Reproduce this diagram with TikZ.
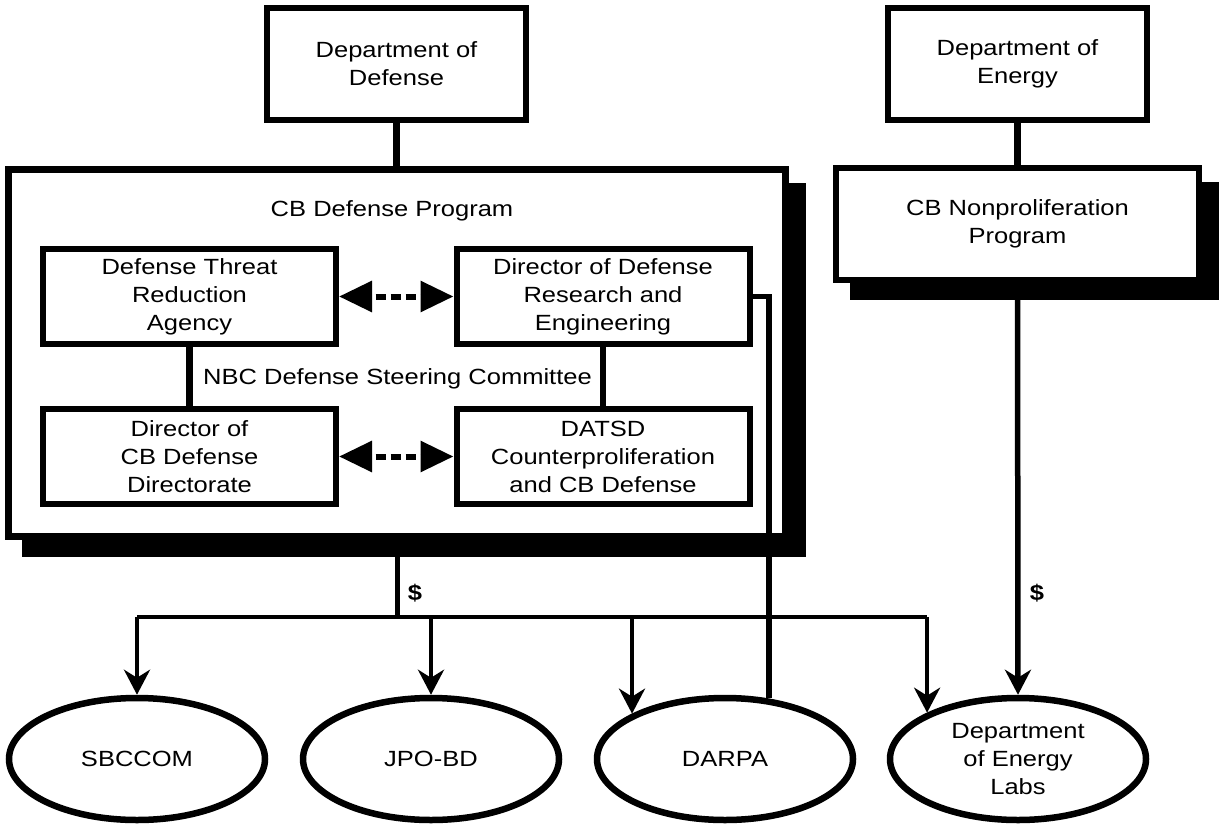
\documentclass[tikz,border=0pt]{standalone}
\usepackage{fontspec}
\setmainfont{Liberation Sans}[FakeStretch=1.16]
\usetikzlibrary{arrows.meta,shapes.geometric,calc}
\pgfdeclarelayer{background}
\pgfsetlayers{background,main}
\begin{document}
\begin{tikzpicture}[x=1pt,y=-1pt,
  txt/.style={font=\fontsize{22}{28}\selectfont},
  topbox/.style={draw, fill=white, line width=6.5pt, minimum width=259pt, minimum height=112pt, inner sep=0pt, align=center, txt},
  innerbox/.style={draw, fill=white, line width=6pt, minimum width=293pt, minimum height=95pt, inner sep=0pt, align=center, txt},
  oval/.style={draw, fill=white, ellipse, line width=6.5pt, minimum width=256pt, minimum height=122pt, inner sep=0pt, align=center, txt},
  dotarrow/.style={line width=6pt, dash pattern=on 10pt off 5pt, dash phase=10pt, {Triangle[length=33pt,width=30pt]}-{Triangle[length=33pt,width=30pt]}},
  solidline/.style={line width=6.5pt},
  feed/.style={line width=4.3pt, -{Stealth[length=25pt,width=26pt,inset=8pt]}},
  dollar/.style={font=\fontsize{22}{26}\selectfont\bfseries}
]
\useasboundingbox (0,0) rectangle (1225,826);

% top boxes
\node[topbox] (dod) at (396.5,64) {Department of\\Defense};
\node[topbox] (doe) at (1017.5,64) {Department of\\Energy};

% program boxes
\node[draw, fill=white, line width=7pt, minimum width=777pt, minimum height=367pt, inner sep=0pt] (big) at (397,353) {};
\node[txt, anchor=base] (cbdp) at (392,217) {CB Defense Program};
\node[topbox, minimum width=363pt] (cbnp) at (1017.5,224) {CB Nonproliferation\\Program};

% shadows
\begin{pgfonlayer}{background}
  \fill ([shift={(17,17)}]big.north west) rectangle ([shift={(17,17)}]big.south east);
  \fill ([shift={(17,17)}]cbnp.north west) rectangle ([shift={(17,17)}]cbnp.south east);
\end{pgfonlayer}

% inner boxes
\node[innerbox] (dtra) at (189.5,296.5) {Defense Threat\\Reduction\\Agency};
\node[innerbox] (ddre) at (603,296.5) {Director of Defense\\Research and\\Engineering};
\node[innerbox] (dircb) at (189.5,456.5) {Director of\\CB Defense\\Directorate};
\node[innerbox] (datsd) at (603,456.5) {DATSD\\Counterproliferation\\and CB Defense};
\node[txt, anchor=base] (nbc) at (397.5,384) {NBC Defense Steering Committee};

% ovals
\node[oval] (sbccom) at (137,759) {SBCCOM};
\node[oval] (jpo) at (431,759) {JPO-BD};
\node[oval] (darpa) at (725,759) {DARPA};
\node[oval] (labs) at (1018,759) {Department\\of Energy\\Labs};

% connectors
\draw[solidline] (dod.south) -- (dod.south |- big.north);
\draw[solidline] (doe.south) -- (doe.south |- cbnp.north);
\draw[solidline] (dtra.south) -- (dircb.north);
\draw[solidline] (ddre.south) -- (datsd.north);
\draw[dotarrow] (dtra.east) -- (ddre.west);
\draw[dotarrow] (dircb.east) -- (datsd.west);

\draw[line width=5.5pt] (ddre.east) -| (darpa.54.7);

\coordinate (bus) at (397,617);
\draw[line width=5pt] (big.south) -- (bus);
\draw[line width=4.3pt] (sbccom.north |- bus) -- (labs.153 |- bus);
\draw[feed] (sbccom.north |- bus) -- (sbccom.north);
\draw[feed] (jpo.north |- bus) -- (jpo.north);
\draw[feed] (darpa.154 |- bus) -- (darpa.154);
\draw[feed] (labs.153 |- bus) -- (labs.153);
\draw[line width=5.5pt, -{Stealth[length=25pt,width=26pt,inset=8pt]}] (cbnp.south) -- (labs.north);

\node[dollar] (d1) at (415,593) {\$};
\node[dollar] (d2) at (1037,593) {\$};
\end{tikzpicture}
\end{document}
